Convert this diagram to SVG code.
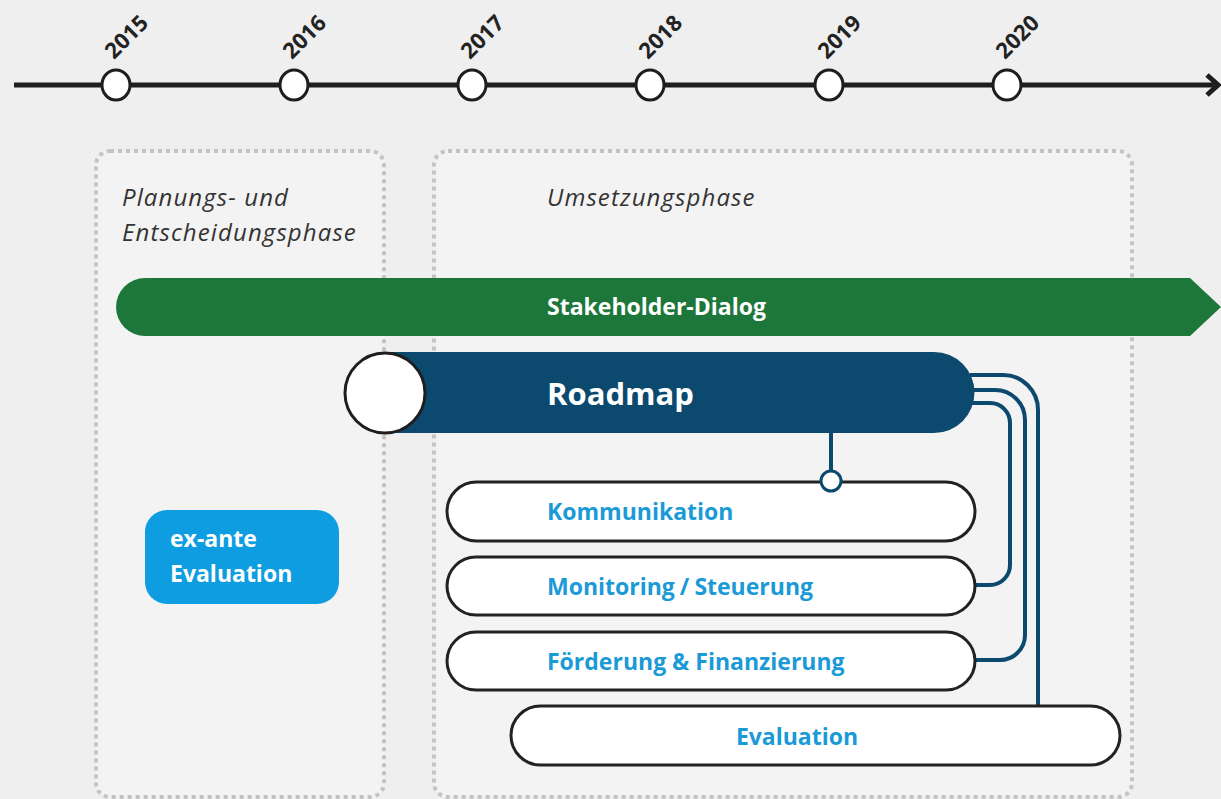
<svg xmlns="http://www.w3.org/2000/svg" width="1221" height="799" viewBox="0 0 1221 799">
<style>
.year{font-family:"Open Sans","Liberation Sans",sans-serif;font-weight:700;font-size:22px;fill:#222}
.phase{font-family:"Open Sans","Liberation Sans",sans-serif;font-style:italic;font-size:24px;letter-spacing:1.1px;fill:#333}
.pill{fill:#fff;stroke:#222;stroke-width:3}
.pilltxt{font-family:"Open Sans","Liberation Sans",sans-serif;font-weight:700;font-size:23px;fill:#1a9ad6}
.wtxt{font-family:"Open Sans","Liberation Sans",sans-serif;font-weight:700;fill:#fff}
.conn{fill:none;stroke:#0b4a6e;stroke-width:4}
.phasebox{fill:#f3f3f3;stroke:#c4c4c4;stroke-width:4;stroke-dasharray:4 4}
.tick{fill:#fff;stroke:#1e1e1e;stroke-width:3}
</style>
<rect width="1221" height="799" fill="#efefef"/>
<g id="timeline">
<line x1="14" y1="85" x2="1214" y2="85" stroke="#1e1e1e" stroke-width="5"/>
<path d="M1207,75 L1218,85 L1207,95" fill="none" stroke="#1e1e1e" stroke-width="5"/>
<ellipse class="tick" cx="116" cy="85" rx="14" ry="15"/>
<ellipse class="tick" cx="294" cy="85" rx="14" ry="15"/>
<ellipse class="tick" cx="472" cy="85" rx="14" ry="15"/>
<ellipse class="tick" cx="650" cy="85" rx="14" ry="15"/>
<ellipse class="tick" cx="829" cy="85" rx="14" ry="15"/>
<ellipse class="tick" cx="1007" cy="85" rx="14" ry="15"/>
<text class="year" transform="translate(114,60) rotate(-45)">2015</text>
<text class="year" transform="translate(292,60) rotate(-45)">2016</text>
<text class="year" transform="translate(470,60) rotate(-45)">2017</text>
<text class="year" transform="translate(648,60) rotate(-45)">2018</text>
<text class="year" transform="translate(827,60) rotate(-45)">2019</text>
<text class="year" transform="translate(1005,60) rotate(-45)">2020</text>
</g>
<g id="phase-planung">
<rect class="phasebox" x="96" y="151" width="288" height="646" rx="14"/>
<text class="phase" x="122" y="206">Planungs- und</text>
<text class="phase" x="122" y="241">Entscheidungsphase</text>
</g>
<g id="phase-umsetzung">
<rect class="phasebox" x="434" y="151" width="698" height="646" rx="14"/>
<text class="phase" x="547" y="206">Umsetzungsphase</text>
</g>
<g id="stakeholder">
<path d="M145,278 L1190,278 L1221,307 L1190,336 L145,336 A29,29 0 0 1 145,278 Z" fill="#1d773a"/>
<text class="wtxt" x="547" y="315" font-size="23">Stakeholder-Dialog</text>
</g>
<g id="connectors">
<path class="conn" d="M970,375 L1003,375 A35,35 0 0 1 1038,410 L1038,706"/>
<path class="conn" d="M970,390 L995,390 A30,30 0 0 1 1025,420 L1025,635 A25,25 0 0 1 1000,660 L975,660"/>
<path class="conn" d="M970,403 L990,403 A20,20 0 0 1 1010,423 L1010,565 A20,20 0 0 1 990,585 L975,585"/>
<line class="conn" x1="831" y1="430" x2="831" y2="471"/>
</g>
<g id="roadmap">
<path d="M385,352 L934,352 A40.5,40.5 0 0 1 934,433 L385,433 Z" fill="#0b4a6e"/>
<circle cx="385" cy="393" r="40" fill="#fff" stroke="#1e1e1e" stroke-width="3"/>
<text class="wtxt" x="547" y="405" font-size="31">Roadmap</text>
</g>
<g id="kommunikation">
<rect class="pill" x="447" y="482" width="528" height="59" rx="29.5"/>
<text class="pilltxt" x="547" y="520">Kommunikation</text>
</g>
<circle cx="831" cy="481" r="10" fill="#fff" stroke="#0b4a6e" stroke-width="3"/>
<g id="monitoring">
<rect class="pill" x="447" y="557" width="528" height="58" rx="29"/>
<text class="pilltxt" x="547" y="595">Monitoring<tspan dx="5">/</tspan><tspan dx="5">Steuerung</tspan></text>
</g>
<g id="foerderung">
<rect class="pill" x="447" y="632" width="528" height="58" rx="29"/>
<text class="pilltxt" x="547" y="670">Förderung &amp; Finanzierung</text>
</g>
<g id="evaluation">
<rect class="pill" x="511" y="706" width="609" height="59" rx="29.5"/>
<text class="pilltxt" x="797" y="745" text-anchor="middle">Evaluation</text>
</g>
<g id="exante">
<rect x="145" y="510" width="194" height="94" rx="22" fill="#0e9de0"/>
<text class="wtxt" x="170" y="547" font-size="23">ex-ante</text>
<text class="wtxt" x="170" y="582" font-size="23">Evaluation</text>
</g>
</svg>
